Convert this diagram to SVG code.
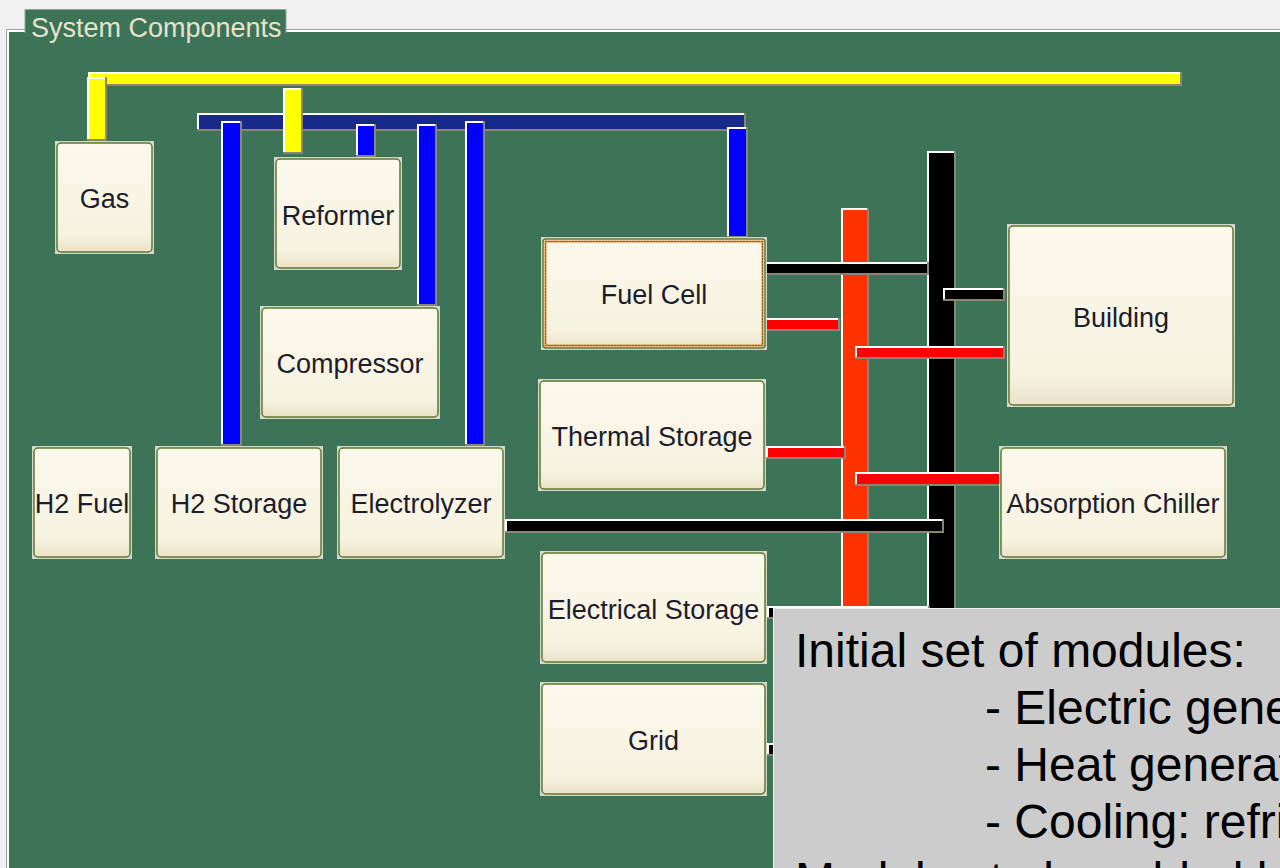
<svg xmlns="http://www.w3.org/2000/svg" width="1280" height="868" viewBox="0 0 1280 868">
<defs>
<linearGradient id="face" x1="0" y1="0" x2="0" y2="1">
<stop offset="0" stop-color="#fbf9ec"/>
<stop offset="0.85" stop-color="#f6f2e0"/>
<stop offset="1" stop-color="#e9e2c8"/>
</linearGradient>
<style>
.s{fill:#8a8676}
.h{fill:#ffffff}
.yellow .c{fill:#ffff00}
.navy .c{fill:#172a8a}
.blue .c{fill:#0000ff}
.orange .c{fill:#ff3300}
.red .c{fill:#ff0000}
.black .c{fill:#000000}
.frame{fill:#d6d6ce}
.face{fill:url(#face);stroke:#5e7a2c;stroke-width:1.5}
.lbl{font-family:"Liberation Sans",Arial,sans-serif;font-size:27px;fill:#1c1c2c;text-anchor:middle}
.note{font-family:"Liberation Sans",Arial,sans-serif;font-size:48px;fill:#000000}
</style>
</defs>
<rect x="0" y="0" width="1280" height="868" fill="#f0f0f0"/>
<g id="panel">
<rect x="9" y="32" width="1271" height="836" fill="#3d7357"/>
<path d="M6.5,868 V29.5 H25 M286,29.5 H1280" fill="none" stroke="#a0a0a0" stroke-width="1"/>
<path d="M8,868 V31 H25 M286,31 H1280" fill="none" stroke="#ffffff" stroke-width="1.5"/>
<rect x="25" y="9" width="261" height="24" fill="#3d7357"/>
<path d="M25,33 V9.5 H286 V33" fill="none" stroke="#8fa898" stroke-width="1"/>
<text x="31" y="36.5" font-family="'Liberation Sans',Arial,sans-serif" font-size="27" fill="#e6e2cc">System Components</text>
</g>
<g id="connectors">
<g class="yellow"><rect class="s" x="88" y="72" width="1094" height="14"/><rect class="h" x="88" y="72" width="1092" height="12"/><rect class="c" x="90" y="74" width="1090" height="10"/></g>
<g class="navy"><rect class="s" x="197" y="113" width="549" height="18"/><rect class="h" x="197" y="113" width="547" height="16"/><rect class="c" x="199" y="115" width="545" height="14"/></g>
<g class="yellow"><rect class="s" x="87" y="77" width="20" height="64"/><rect class="h" x="87" y="77" width="18" height="62"/><rect class="c" x="89" y="79" width="16" height="60"/></g>
<g class="yellow"><rect class="s" x="283" y="88" width="20" height="66"/><rect class="h" x="283" y="88" width="18" height="64"/><rect class="c" x="285" y="90" width="16" height="62"/></g>
<g class="blue"><rect class="s" x="221" y="121" width="21" height="325"/><rect class="h" x="221" y="121" width="19" height="323"/><rect class="c" x="223" y="123" width="17" height="321"/></g>
<g class="blue"><rect class="s" x="356" y="124" width="20" height="33"/><rect class="h" x="356" y="124" width="18" height="31"/><rect class="c" x="358" y="126" width="16" height="29"/></g>
<g class="blue"><rect class="s" x="417" y="124" width="20" height="182"/><rect class="h" x="417" y="124" width="18" height="180"/><rect class="c" x="419" y="126" width="16" height="178"/></g>
<g class="blue"><rect class="s" x="465" y="121" width="20" height="325"/><rect class="h" x="465" y="121" width="18" height="323"/><rect class="c" x="467" y="123" width="16" height="321"/></g>
<g class="blue"><rect class="s" x="727" y="127" width="21" height="111"/><rect class="h" x="727" y="127" width="19" height="109"/><rect class="c" x="729" y="129" width="17" height="107"/></g>
<g class="orange"><rect class="s" x="841" y="208" width="28" height="432"/><rect class="h" x="841" y="208" width="26" height="430"/><rect class="c" x="843" y="210" width="24" height="428"/></g>
<g class="black"><rect class="s" x="927" y="151" width="29" height="489"/><rect class="h" x="927" y="151" width="27" height="487"/><rect class="c" x="929" y="153" width="25" height="485"/></g>
<g class="black"><rect class="s" x="764" y="262" width="165" height="13"/><rect class="h" x="764" y="262" width="163" height="11"/><rect class="c" x="766" y="264" width="161" height="9"/></g>
<g class="red"><rect class="s" x="763" y="318" width="77" height="13"/><rect class="h" x="763" y="318" width="75" height="11"/><rect class="c" x="765" y="320" width="73" height="9"/></g>
<g class="black"><rect class="s" x="943" y="288" width="62" height="13"/><rect class="h" x="943" y="288" width="60" height="11"/><rect class="c" x="945" y="290" width="58" height="9"/></g>
<g class="red"><rect class="s" x="855" y="346" width="150" height="13"/><rect class="h" x="855" y="346" width="148" height="11"/><rect class="c" x="857" y="348" width="146" height="9"/></g>
<g class="red"><rect class="s" x="766" y="446" width="80" height="13"/><rect class="h" x="766" y="446" width="78" height="11"/><rect class="c" x="768" y="448" width="76" height="9"/></g>
<g class="red"><rect class="s" x="855" y="472" width="151" height="14"/><rect class="h" x="855" y="472" width="149" height="12"/><rect class="c" x="857" y="474" width="147" height="10"/></g>
<g class="black"><rect class="s" x="505" y="519" width="439" height="14"/><rect class="h" x="505" y="519" width="437" height="12"/><rect class="c" x="507" y="521" width="435" height="10"/></g>
<g class="black"><rect class="s" x="767" y="606" width="163" height="13"/><rect class="h" x="767" y="606" width="161" height="11"/><rect class="c" x="769" y="608" width="159" height="9"/></g>
<g class="black"><rect class="s" x="767" y="743" width="163" height="13"/><rect class="h" x="767" y="743" width="161" height="11"/><rect class="c" x="769" y="745" width="159" height="9"/></g>
</g>
<g id="gas"><rect class="frame" x="55" y="141" width="99" height="113"/><rect class="face" x="57" y="143" width="95" height="109" rx="4"/><text class="lbl" x="104.5" y="208">Gas</text></g>
<g id="reformer"><rect class="frame" x="274" y="157" width="128" height="113"/><rect class="face" x="276" y="159" width="124" height="109" rx="4"/><text class="lbl" x="338" y="225">Reformer</text></g>
<g id="compressor"><rect class="frame" x="260" y="306" width="180" height="113"/><rect class="face" x="262" y="308" width="176" height="109" rx="4"/><text class="lbl" x="350" y="373">Compressor</text></g>
<g id="h2fuel"><rect class="frame" x="32" y="446" width="100" height="113"/><rect class="face" x="34" y="448" width="96" height="109" rx="4"/><text class="lbl" x="82" y="513">H2 Fuel</text></g>
<g id="h2storage"><rect class="frame" x="155" y="446" width="168" height="113"/><rect class="face" x="157" y="448" width="164" height="109" rx="4"/><text class="lbl" x="239" y="513">H2 Storage</text></g>
<g id="electrolyzer"><rect class="frame" x="337" y="446" width="168" height="113"/><rect class="face" x="339" y="448" width="164" height="109" rx="4"/><text class="lbl" x="421" y="513">Electrolyzer</text></g>
<g id="fuelcell"><rect class="frame" x="541" y="237" width="226" height="113"/><rect class="face" x="543" y="239" width="222" height="109" rx="3"/><rect x="545.5" y="241.5" width="217" height="104" fill="none" stroke="#e08a36" stroke-width="2"/><rect x="545.5" y="241.5" width="217" height="104" fill="none" stroke="#3a2a14" stroke-width="1" stroke-dasharray="1 2"/><text class="lbl" x="654" y="304">Fuel Cell</text></g>
<g id="thermalstorage"><rect class="frame" x="538" y="379" width="228" height="112"/><rect class="face" x="540" y="381" width="224" height="108" rx="4"/><text class="lbl" x="652" y="446">Thermal Storage</text></g>
<g id="electricalstorage"><rect class="frame" x="540" y="551" width="227" height="113"/><rect class="face" x="542" y="553" width="223" height="109" rx="4"/><text class="lbl" x="653.5" y="618.5">Electrical Storage</text></g>
<g id="grid"><rect class="frame" x="540" y="682" width="227" height="114"/><rect class="face" x="542" y="684" width="223" height="110" rx="4"/><text class="lbl" x="653.5" y="750">Grid</text></g>
<g id="building"><rect class="frame" x="1007" y="224" width="228" height="183"/><rect class="face" x="1009" y="226" width="224" height="179" rx="4"/><text class="lbl" x="1121" y="327">Building</text></g>
<g id="chiller"><rect class="frame" x="999" y="446" width="228" height="113"/><rect class="face" x="1001" y="448" width="224" height="109" rx="4"/><text class="lbl" x="1113" y="513">Absorption Chiller</text></g>
<g id="notes">
<rect x="773" y="608" width="507" height="260" fill="#cccccc"/>
<path d="M773.5,868 V608.5 H1280" fill="none" stroke="#eeeeee" stroke-width="1"/>
<text class="note" x="795" y="667">Initial set of modules:</text>
<text class="note" x="985" y="724">- Electric gene</text>
<text class="note" x="985" y="781">- Heat generat</text>
<text class="note" x="985" y="838">- Cooling: refri</text>
<text class="note" x="795" y="896">Modules to be added b</text>
</g>
</svg>
